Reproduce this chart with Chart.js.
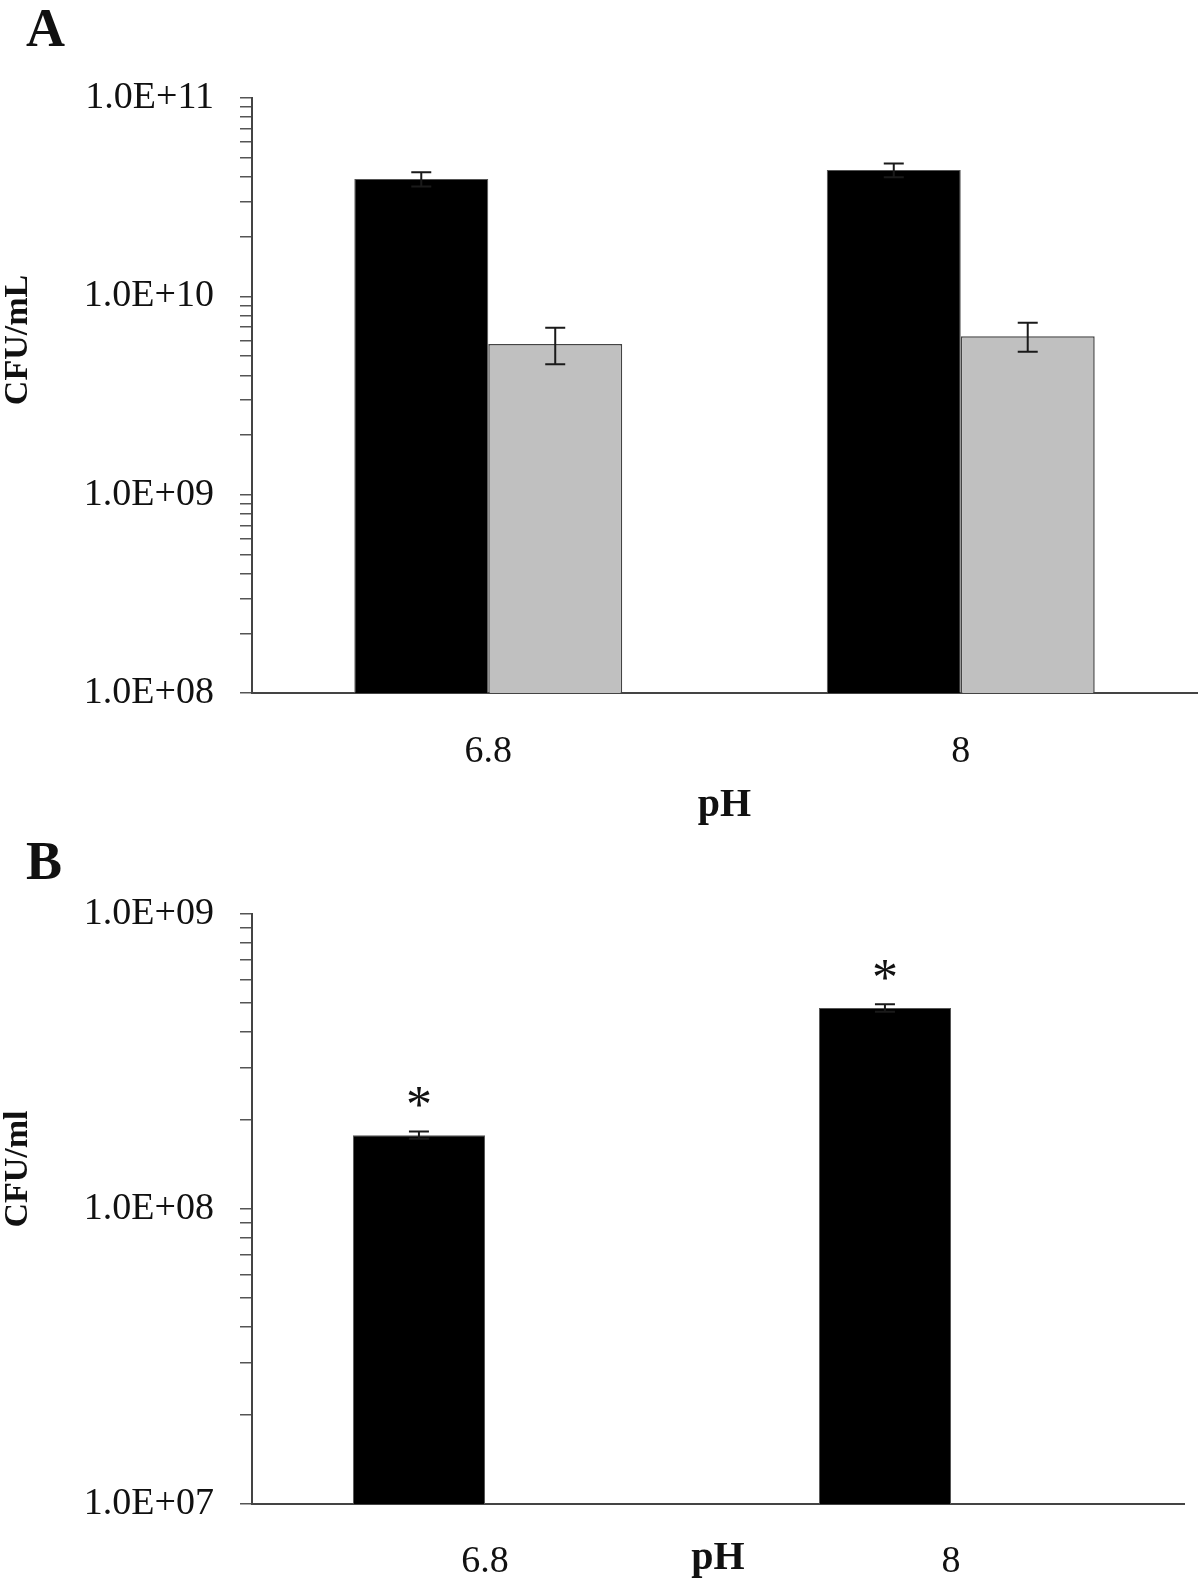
<!DOCTYPE html>
<html>
<head>
<meta charset="utf-8">
<script src="https://cdn.jsdelivr.net/npm/chart.js@4.4.0/dist/chart.umd.min.js"></script>
<style>
  body { margin: 0; background: #fff; }
  #wrap { position: relative; width: 1200px; height: 1580px; }
  .panel { position: absolute; left: 0; width: 1200px; }
  #panelA { top: 0; height: 840px; }
  #panelB { top: 840px; height: 740px; }
</style>
</head>
<body>
<div id="wrap">
  <div class="panel" id="panelA"><canvas id="chartA"></canvas></div>
  <div class="panel" id="panelB"><canvas id="chartB"></canvas></div>
</div>
<script>
// categories
const phLabels = ['6.8', '8'];

// panel A values
const blackA = [3.9e10, 4.33e10];
const blackErrA = [0.32e10, 0.35e10];
const greyA = [5.75e9, 6.3e9];
const greyErrA = [1.2e9, 1.05e9];
const yTicksA = [1e8, 1e9, 1e10, 1e11];
const yTickLabelsA = ['1.0E+08', '1.0E+09', '1.0E+10', '1.0E+11'];

// panel B values
const blackB = [1.78e8, 4.8e8];
const blackErrB = [0.05e8, 0.14e8];
const starsB = ['*', '*'];
const yTicksB = [1e7, 1e8, 1e9];
const yTickLabelsB = ['1.0E+07', '1.0E+08', '1.0E+09'];

const minorSteps = [1, 2, 3, 4, 5, 6, 7, 8, 9];
const SERIF = '"Liberation Serif", "Times New Roman", serif';

// major + minor ticks of a log axis
function buildLogTicks(majors) {
  const out = [];
  for (let i = 0; i < majors.length - 1; i++) {
    minorSteps.forEach(m => out.push({ value: majors[i] * m }));
  }
  out.push({ value: majors[majors.length - 1] });
  return out;
}

// error bars drawn from dataset.errors
const errorBars = {
  id: 'errorBars',
  afterDatasetsDraw(chart) {
    const ctx = chart.ctx;
    const y = chart.scales.y;
    chart.data.datasets.forEach((ds, i) => {
      if (!ds.errors) return;
      chart.getDatasetMeta(i).data.forEach((bar, j) => {
        const v = ds.data[j], e = ds.errors[j];
        if (v == null || e == null) return;
        const top = y.getPixelForValue(v + e);
        const bot = y.getPixelForValue(v - e);
        ctx.save();
        ctx.strokeStyle = '#1a1a1a';
        ctx.lineWidth = 2;
        ctx.beginPath();
        ctx.moveTo(bar.x, top); ctx.lineTo(bar.x, bot);
        ctx.moveTo(bar.x - 10, top); ctx.lineTo(bar.x + 10, top);
        ctx.moveTo(bar.x - 10, bot); ctx.lineTo(bar.x + 10, bot);
        ctx.stroke();
        // asterisks over the bar
        if (ds.stars && ds.stars[j]) {
          ctx.fillStyle = '#111';
          ctx.font = '52px ' + SERIF;
          ctx.textAlign = 'center';
          ctx.textBaseline = 'alphabetic';
          ctx.fillText(ds.stars[j], bar.x, bar.y - 37 + 24);
        }
        ctx.restore();
      });
    });
  }
};

// panel letter and rotated y title
const panelText = {
  id: 'panelText',
  afterDraw(chart, args, opts) {
    const ctx = chart.ctx;
    ctx.save();
    ctx.fillStyle = '#111';
    ctx.font = 'bold 54px ' + SERIF;
    ctx.textAlign = 'left';
    ctx.textBaseline = 'alphabetic';
    ctx.fillText(opts.letter, 26, opts.letterY);
    ctx.translate(18, opts.titleY);
    ctx.rotate(-Math.PI / 2);
    ctx.font = 'bold 34px ' + SERIF;
    ctx.textAlign = 'center';
    ctx.textBaseline = 'middle';
    ctx.fillText(opts.yTitle, 0, 0);
    ctx.restore();
  }
};

function makeChart(id, datasets, cfg) {
  return new Chart(document.getElementById(id), {
    type: 'bar',
    data: { labels: phLabels, datasets: datasets },
    plugins: [errorBars, panelText],
    options: {
      responsive: true,
      maintainAspectRatio: false,
      animation: false,
      layout: { padding: { top: cfg.top, right: cfg.right, left: 0, bottom: 0 } },
      datasets: { bar: { categoryPercentage: 0.567, barPercentage: 1.0 } },
      plugins: {
        legend: { display: false },
        tooltip: { enabled: false },
        panelText: { letter: cfg.letter, letterY: cfg.letterY, yTitle: cfg.yTitle, titleY: cfg.titleY }
      },
      scales: {
        x: {
          afterFit: s => { s.height = cfg.xHeight; },
          grid: { display: false, drawTicks: false },
          border: { display: true, color: '#444', width: 2 },
          ticks: { font: { family: SERIF, size: 38 }, color: '#111', padding: cfg.xPad },
          title: {
            display: true, text: 'pH', color: '#111',
            font: { family: SERIF, size: 40, weight: 'bold' },
            padding: { top: 0, bottom: cfg.titlePad }
          }
        },
        y: {
          type: 'logarithmic',
          min: cfg.majors[0],
          max: cfg.majors[cfg.majors.length - 1],
          afterBuildTicks: s => { s.ticks = buildLogTicks(cfg.majors); },
          afterFit: s => { s.width = 252; },
          ticks: {
            autoSkip: false,
            font: { family: SERIF, size: 38 },
            color: '#111',
            padding: 26,
            callback: v => {
              const k = cfg.majors.indexOf(v);
              return k >= 0 ? cfg.tickLabels[k] : '';
            }
          },
          grid: { drawOnChartArea: false, drawTicks: true, tickLength: 12, color: '#555', lineWidth: 1.5 },
          border: { display: true, color: '#444', width: 2 }
        }
      }
    }
  });
}

makeChart('chartA', [
  { label: 'A1', data: blackA, errors: blackErrA, backgroundColor: '#000', borderColor: '#555', borderWidth: 1 },
  { label: 'A2', data: greyA, errors: greyErrA, backgroundColor: '#c0c0c0', borderColor: '#444', borderWidth: 1.5 }
], {
  top: 98, right: 3, xHeight: 147, xPad: 36, titlePad: 10,
  majors: yTicksA, tickLabels: yTickLabelsA,
  letter: 'A', letterY: 46, yTitle: 'CFU/mL', titleY: 340
});

makeChart('chartB', [
  { label: 'B1', data: blackB, errors: blackErrB, stars: starsB, backgroundColor: '#000', borderColor: '#555', borderWidth: 1 },
  { label: 'B2', data: [null, null], backgroundColor: '#c0c0c0', borderColor: '#444', borderWidth: 1.5 }
], {
  top: 74, right: 16, xHeight: 76, xPad: 35, titlePad: -3,
  majors: yTicksB, tickLabels: yTickLabelsB,
  letter: 'B', letterY: 39, yTitle: 'CFU/ml', titleY: 329
});
</script>
</body>
</html>
